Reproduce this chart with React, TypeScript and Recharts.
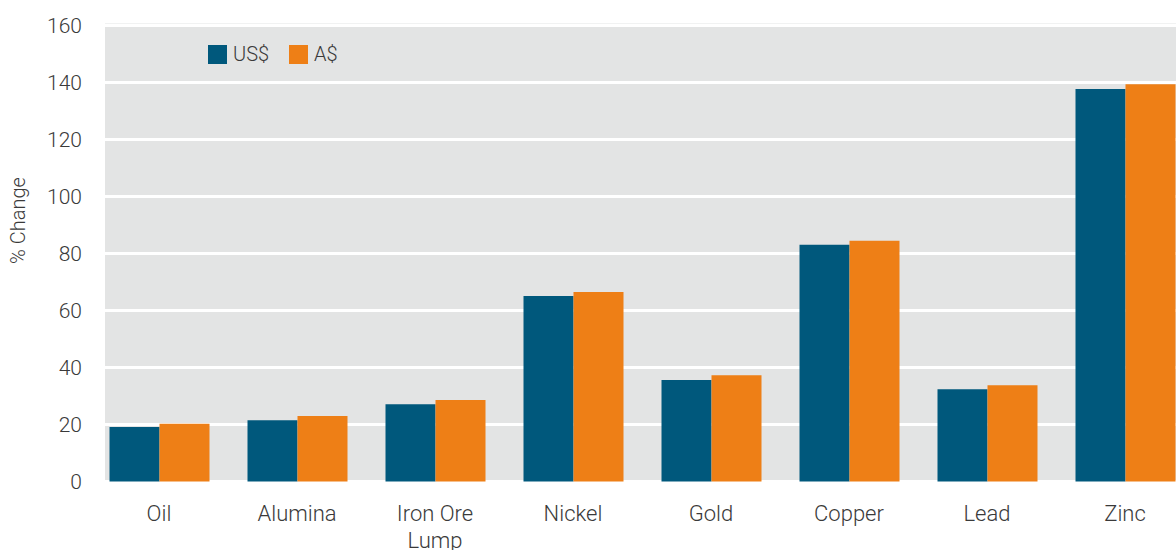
import React from 'react';
import { BarChart, Bar, XAxis, YAxis, CartesianGrid, Legend } from 'recharts';

const categories = ['Oil', 'Alumina', 'Iron Ore\nLump', 'Nickel', 'Gold', 'Copper', 'Lead', 'Zinc'];
const usdValues = [19.1, 21.5, 27.1, 65.1, 35.6, 83.1, 32.4, 137.7];
const audValues = [20.3, 23.0, 28.6, 66.5, 37.3, 84.5, 33.8, 139.4];
const yTicks = [0, 20, 40, 60, 80, 100, 120, 140, 160];

const data = categories.map((name, i) => ({ name, usd: usdValues[i], aud: audValues[i] }));

const FONT = 'Roboto, "Noto Sans", sans-serif';
const TEXT_COLOR = '#3a3a3a';
const TEAL = '#00587c';
const ORANGE = '#ee7f16';

const XTick = (props: any) => {
  const { x, y, payload } = props;
  const lines = String(payload.value).split('\n');
  return (
    <text
      x={x}
      y={y + 38}
      textAnchor="middle"
      style={{ fontFamily: FONT, fontSize: 22, fontWeight: 300, fill: TEXT_COLOR }}
    >
      {lines.map((l, i) => (
        <tspan key={i} x={x} dy={i === 0 ? 0 : 27}>
          {l}
        </tspan>
      ))}
    </text>
  );
};

const LegendContent = () => {
  const items = [
    { label: 'US$', color: TEAL },
    { label: 'A$', color: ORANGE },
  ];
  return (
    <div style={{ display: 'flex', alignItems: 'center', fontFamily: FONT, fontWeight: 300, fontSize: 20, color: TEXT_COLOR }}>
      {items.map((it) => (
        <div key={it.label} style={{ display: 'flex', alignItems: 'center', marginRight: 20 }}>
          <span style={{ display: 'inline-block', width: 19, height: 19, background: it.color, marginRight: 6 }} />
          <span style={{ lineHeight: '20px' }}>{it.label}</span>
        </div>
      ))}
    </div>
  );
};

const YLabel = (props: any) => {
  const { viewBox } = props;
  const cx = viewBox.x + 18;
  const cy = viewBox.y + viewBox.height / 2 - 32;
  return (
    <text
      x={cx}
      y={cy}
      transform={`rotate(-90, ${cx}, ${cy})`}
      textAnchor="middle"
      dominantBaseline="central"
      style={{ fontFamily: FONT, fontSize: 20, fontWeight: 300, fill: TEXT_COLOR }}
    >
      % Change
    </text>
  );
};

export default function App() {
  return (
    <div style={{ position: 'absolute', left: 0, top: 0, width: 1176, height: 550, overflow: 'hidden', background: '#fff' }}>
      <BarChart
        width={1200}
        height={550}
        data={data}
        margin={{ top: 22, right: 6, left: 0, bottom: 0 }}
        barGap={0}
        barCategoryGap={19.5}
      >
        <CartesianGrid vertical={false} stroke="#ffffff" strokeWidth={3} fill="#e3e4e4" />
        <XAxis
          dataKey="name"
          axisLine={false}
          tickLine={false}
          tickSize={0}
          tickMargin={0}
          height={67}
          interval={0}
          padding={{ left: -15, right: 0 }}
          tick={<XTick />}
        />
        <YAxis
          width={105}
          domain={[-0.5, 161.2]}
          ticks={yTicks}
          allowDataOverflow
          axisLine={false}
          tickLine={false}
          tickSize={0}
          tickMargin={23}
          tick={{ fontFamily: FONT, fontSize: 21, fontWeight: 300, fill: TEXT_COLOR }}
          label={<YLabel />}
        />
        <Legend
          verticalAlign="middle"
          layout="horizontal"
          wrapperStyle={{ top: 44, left: 208, width: 'auto' }}
          content={<LegendContent />}
        />
        <Bar dataKey="usd" name="US$" fill={TEAL} isAnimationActive={false} />
        <Bar dataKey="aud" name="A$" fill={ORANGE} isAnimationActive={false} />
      </BarChart>
    </div>
  );
}
